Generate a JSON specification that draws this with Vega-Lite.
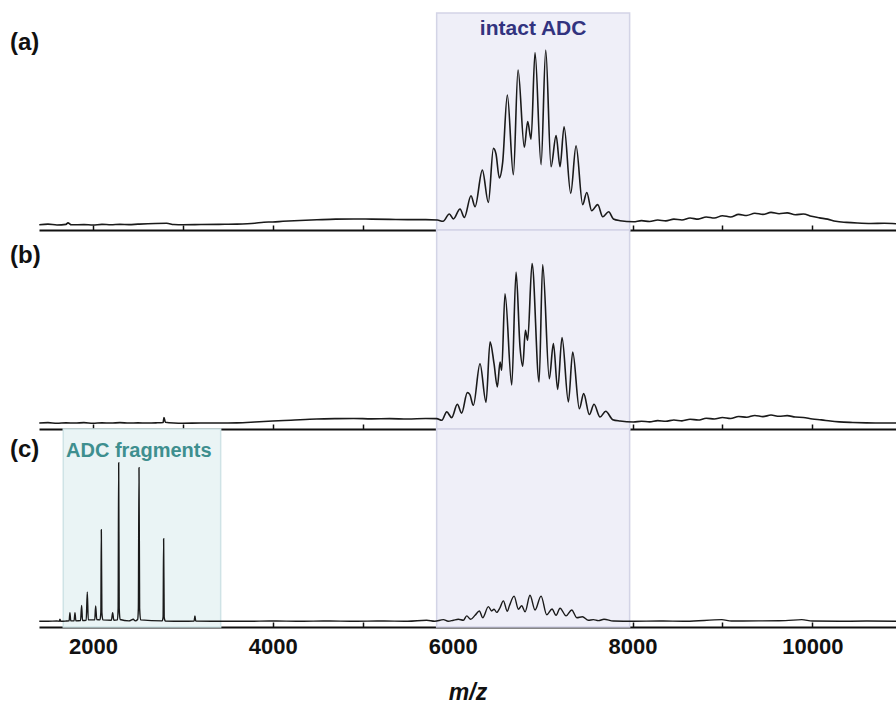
{
  "$schema": "https://vega.github.io/schema/vega-lite/v6.json",
  "padding": {"left": 10, "top": 12, "right": 0, "bottom": 0},
  "background": "white",
  "spacing": 0,
  "bounds": "flush",
  "config": {
    "view": {"stroke": null},
    "font": "Liberation Sans",
    "axisX": {
      "grid": false,
      "domainColor": "#111111",
      "domainWidth": 2,
      "tickColor": "#111111",
      "tickWidth": 1.5
    }
  },
  "datasets": {
    "regions": [
      {"name": "intact ADC", "start": 5822, "end": 7968},
      {"name": "ADC fragments", "start": 1670, "end": 3420}
    ],
    "labels": [
      {"panel": "a", "text": "intact ADC", "mz": 6895, "i": 90},
      {"panel": "c", "text": "ADC fragments", "mz": 2510, "i": 86}
    ],
    "specA": [
      {"mz": 1403, "i": 2.4}, {"mz": 1500, "i": 2.7}, {"mz": 1600, "i": 2.3}, {"mz": 1700, "i": 2.6}, {"mz": 1722, "i": 3.3}, {"mz": 1760, "i": 2.4},
      {"mz": 1900, "i": 2.5}, {"mz": 2000, "i": 2.3}, {"mz": 2100, "i": 2.6}, {"mz": 2200, "i": 2.4}, {"mz": 2300, "i": 2.6}, {"mz": 2400, "i": 2.5},
      {"mz": 2500, "i": 2.7}, {"mz": 2820, "i": 3.1}, {"mz": 2900, "i": 2.5}, {"mz": 3000, "i": 2.4}, {"mz": 3200, "i": 2.5}, {"mz": 3400, "i": 2.6},
      {"mz": 3600, "i": 2.7}, {"mz": 3800, "i": 3.1}, {"mz": 3900, "i": 3.6}, {"mz": 4000, "i": 3.7}, {"mz": 4113, "i": 4.0}, {"mz": 4300, "i": 4.4},
      {"mz": 4491, "i": 4.7}, {"mz": 4700, "i": 5.0}, {"mz": 4900, "i": 5.1}, {"mz": 5100, "i": 5.0}, {"mz": 5300, "i": 4.9}, {"mz": 5500, "i": 4.8},
      {"mz": 5700, "i": 4.8}, {"mz": 5830, "i": 4.6}, {"mz": 5893, "i": 4.0}, {"mz": 5963, "i": 7.4}, {"mz": 6008, "i": 5.1}, {"mz": 6082, "i": 9.7},
      {"mz": 6130, "i": 5.8}, {"mz": 6204, "i": 15.8}, {"mz": 6249, "i": 10.7}, {"mz": 6330, "i": 27.6}, {"mz": 6397, "i": 12.7}, {"mz": 6453, "i": 37.6},
      {"mz": 6482, "i": 35.0}, {"mz": 6519, "i": 24.0}, {"mz": 6556, "i": 31.2}, {"mz": 6608, "i": 62.2}, {"mz": 6675, "i": 25.5}, {"mz": 6727, "i": 73.7},
      {"mz": 6797, "i": 38.1}, {"mz": 6834, "i": 50.0}, {"mz": 6872, "i": 41.9}, {"mz": 6916, "i": 81.8}, {"mz": 6983, "i": 30.1}, {"mz": 7035, "i": 82.9},
      {"mz": 7094, "i": 29.2}, {"mz": 7150, "i": 43.5}, {"mz": 7194, "i": 29.2}, {"mz": 7239, "i": 47.6}, {"mz": 7313, "i": 16.9}, {"mz": 7372, "i": 38.8},
      {"mz": 7446, "i": 11.7}, {"mz": 7491, "i": 17.3}, {"mz": 7546, "i": 8.9}, {"mz": 7613, "i": 11.7}, {"mz": 7669, "i": 6.1}, {"mz": 7735, "i": 8.4},
      {"mz": 7787, "i": 5.1}, {"mz": 7861, "i": 4.3}, {"mz": 8010, "i": 3.8}, {"mz": 8100, "i": 4.3}, {"mz": 8190, "i": 3.9}, {"mz": 8280, "i": 4.6},
      {"mz": 8370, "i": 4.2}, {"mz": 8460, "i": 5.0}, {"mz": 8550, "i": 4.6}, {"mz": 8640, "i": 5.5}, {"mz": 8730, "i": 5.0}, {"mz": 8820, "i": 6.0},
      {"mz": 8910, "i": 5.5}, {"mz": 9000, "i": 6.6}, {"mz": 9090, "i": 6.0}, {"mz": 9180, "i": 7.2}, {"mz": 9270, "i": 6.7}, {"mz": 9360, "i": 7.7},
      {"mz": 9450, "i": 7.2}, {"mz": 9540, "i": 8.1}, {"mz": 9630, "i": 7.5}, {"mz": 9720, "i": 7.9}, {"mz": 9810, "i": 7.0}, {"mz": 9900, "i": 7.4},
      {"mz": 9990, "i": 6.3}, {"mz": 10080, "i": 5.6}, {"mz": 10170, "i": 5.0}, {"mz": 10260, "i": 4.0}, {"mz": 10380, "i": 3.5}, {"mz": 10500, "i": 3.2},
      {"mz": 10650, "i": 3.0}, {"mz": 10800, "i": 3.1}, {"mz": 10930, "i": 2.9}
    ],
    "specB": [
      {"mz": 1403, "i": 3.0}, {"mz": 1500, "i": 3.2}, {"mz": 1600, "i": 2.9}, {"mz": 1700, "i": 3.1}, {"mz": 1800, "i": 3.0}, {"mz": 1900, "i": 3.2},
      {"mz": 2000, "i": 2.9}, {"mz": 2100, "i": 3.1}, {"mz": 2200, "i": 3.0}, {"mz": 2300, "i": 3.2}, {"mz": 2400, "i": 3.0}, {"mz": 2500, "i": 3.1},
      {"mz": 2600, "i": 3.0}, {"mz": 2700, "i": 3.1}, {"mz": 2780, "i": 3.3}, {"mz": 2790, "i": 5.7}, {"mz": 2805, "i": 3.4}, {"mz": 2900, "i": 3.0},
      {"mz": 3000, "i": 2.9}, {"mz": 3200, "i": 3.0}, {"mz": 3400, "i": 3.0}, {"mz": 3600, "i": 3.1}, {"mz": 3800, "i": 3.5}, {"mz": 4000, "i": 4.0},
      {"mz": 4200, "i": 4.4}, {"mz": 4488, "i": 5.0}, {"mz": 4700, "i": 5.2}, {"mz": 4900, "i": 5.3}, {"mz": 5100, "i": 5.1}, {"mz": 5300, "i": 5.2},
      {"mz": 5500, "i": 5.0}, {"mz": 5700, "i": 5.3}, {"mz": 5823, "i": 5.2}, {"mz": 5880, "i": 4.4}, {"mz": 5934, "i": 8.6}, {"mz": 5989, "i": 5.7},
      {"mz": 6052, "i": 12.4}, {"mz": 6100, "i": 8.0}, {"mz": 6163, "i": 18.3}, {"mz": 6190, "i": 17.4}, {"mz": 6230, "i": 11.9}, {"mz": 6304, "i": 32.8},
      {"mz": 6371, "i": 13.4}, {"mz": 6416, "i": 43.8}, {"mz": 6460, "i": 32.8}, {"mz": 6497, "i": 21.1}, {"mz": 6527, "i": 33.7}, {"mz": 6545, "i": 29.5},
      {"mz": 6582, "i": 68.0}, {"mz": 6657, "i": 22.1}, {"mz": 6705, "i": 78.9}, {"mz": 6749, "i": 41.2}, {"mz": 6779, "i": 31.5}, {"mz": 6809, "i": 49.6},
      {"mz": 6834, "i": 44.6}, {"mz": 6883, "i": 83.1}, {"mz": 6961, "i": 23.6}, {"mz": 7001, "i": 82.6}, {"mz": 7075, "i": 25.3}, {"mz": 7120, "i": 42.9},
      {"mz": 7168, "i": 19.9}, {"mz": 7216, "i": 45.9}, {"mz": 7287, "i": 13.6}, {"mz": 7335, "i": 38.7}, {"mz": 7409, "i": 10.2}, {"mz": 7457, "i": 17.8},
      {"mz": 7520, "i": 7.3}, {"mz": 7572, "i": 12.4}, {"mz": 7639, "i": 6.0}, {"mz": 7702, "i": 8.9}, {"mz": 7780, "i": 4.7}, {"mz": 7861, "i": 4.0},
      {"mz": 8010, "i": 3.5}, {"mz": 8100, "i": 3.9}, {"mz": 8190, "i": 3.6}, {"mz": 8280, "i": 4.2}, {"mz": 8370, "i": 3.9}, {"mz": 8460, "i": 4.5},
      {"mz": 8550, "i": 4.1}, {"mz": 8640, "i": 4.9}, {"mz": 8730, "i": 4.5}, {"mz": 8820, "i": 5.4}, {"mz": 8910, "i": 5.0}, {"mz": 9000, "i": 5.8},
      {"mz": 9090, "i": 5.3}, {"mz": 9180, "i": 6.3}, {"mz": 9270, "i": 5.9}, {"mz": 9360, "i": 6.8}, {"mz": 9450, "i": 6.2}, {"mz": 9540, "i": 7.0},
      {"mz": 9630, "i": 6.4}, {"mz": 9720, "i": 6.7}, {"mz": 9810, "i": 6.0}, {"mz": 9900, "i": 5.8}, {"mz": 10000, "i": 5.0}, {"mz": 10100, "i": 4.6},
      {"mz": 10200, "i": 4.0}, {"mz": 10300, "i": 3.6}, {"mz": 10450, "i": 3.3}, {"mz": 10600, "i": 3.1}, {"mz": 10800, "i": 3.0}, {"mz": 10930, "i": 3.0}
    ],
    "specC": [
      {"mz": 1403, "i": 2.9}, {"mz": 1500, "i": 2.9}, {"mz": 1600, "i": 3.0}, {"mz": 1625, "i": 2.9}, {"mz": 1633, "i": 3.9}, {"mz": 1642, "i": 2.9},
      {"mz": 1700, "i": 3.0}, {"mz": 1735, "i": 3.1}, {"mz": 1744, "i": 7.2}, {"mz": 1753, "i": 3.1}, {"mz": 1790, "i": 3.1}, {"mz": 1800, "i": 7.2},
      {"mz": 1810, "i": 3.1}, {"mz": 1862, "i": 3.3}, {"mz": 1874, "i": 10.9}, {"mz": 1884, "i": 3.3}, {"mz": 1925, "i": 3.4}, {"mz": 1937, "i": 17.7},
      {"mz": 1948, "i": 3.6}, {"mz": 2020, "i": 3.6}, {"mz": 2030, "i": 10.6}, {"mz": 2042, "i": 3.8}, {"mz": 2078, "i": 3.6}, {"mz": 2088, "i": 7.5},
      {"mz": 2093, "i": 49.1}, {"mz": 2099, "i": 7.5}, {"mz": 2110, "i": 3.6}, {"mz": 2205, "i": 3.4}, {"mz": 2219, "i": 7.2}, {"mz": 2232, "i": 3.4},
      {"mz": 2272, "i": 3.6}, {"mz": 2280, "i": 9.5}, {"mz": 2286, "i": 83.0}, {"mz": 2292, "i": 9.5}, {"mz": 2302, "i": 3.8}, {"mz": 2400, "i": 3.1},
      {"mz": 2449, "i": 3.9}, {"mz": 2470, "i": 3.1}, {"mz": 2497, "i": 3.8}, {"mz": 2505, "i": 9.5}, {"mz": 2512, "i": 80.5}, {"mz": 2519, "i": 9.5},
      {"mz": 2530, "i": 3.6}, {"mz": 2770, "i": 3.1}, {"mz": 2780, "i": 5.0}, {"mz": 2786, "i": 44.6}, {"mz": 2792, "i": 5.0}, {"mz": 2805, "i": 3.0},
      {"mz": 3000, "i": 2.9}, {"mz": 3125, "i": 3.0}, {"mz": 3134, "i": 5.6}, {"mz": 3143, "i": 3.0}, {"mz": 3400, "i": 2.9}, {"mz": 3700, "i": 2.9},
      {"mz": 4000, "i": 3.0}, {"mz": 4300, "i": 2.9}, {"mz": 4600, "i": 3.0}, {"mz": 4900, "i": 2.9}, {"mz": 5200, "i": 3.0}, {"mz": 5500, "i": 2.9},
      {"mz": 5711, "i": 3.4}, {"mz": 5800, "i": 2.9}, {"mz": 5897, "i": 3.7}, {"mz": 5950, "i": 2.9}, {"mz": 6008, "i": 3.4}, {"mz": 6063, "i": 3.9},
      {"mz": 6119, "i": 3.4}, {"mz": 6156, "i": 5.6}, {"mz": 6200, "i": 3.9}, {"mz": 6249, "i": 5.9}, {"mz": 6297, "i": 8.1}, {"mz": 6334, "i": 4.7},
      {"mz": 6397, "i": 10.3}, {"mz": 6434, "i": 8.1}, {"mz": 6460, "i": 9.0}, {"mz": 6490, "i": 7.4}, {"mz": 6527, "i": 9.8}, {"mz": 6564, "i": 13.2},
      {"mz": 6608, "i": 7.9}, {"mz": 6631, "i": 10.7}, {"mz": 6683, "i": 15.6}, {"mz": 6731, "i": 9.0}, {"mz": 6768, "i": 10.7}, {"mz": 6805, "i": 7.7},
      {"mz": 6860, "i": 16.0}, {"mz": 6916, "i": 8.6}, {"mz": 6983, "i": 15.6}, {"mz": 7046, "i": 6.2}, {"mz": 7105, "i": 9.1}, {"mz": 7150, "i": 5.9},
      {"mz": 7194, "i": 9.5}, {"mz": 7261, "i": 5.6}, {"mz": 7324, "i": 8.6}, {"mz": 7380, "i": 4.7}, {"mz": 7443, "i": 5.2}, {"mz": 7509, "i": 3.4},
      {"mz": 7565, "i": 3.7}, {"mz": 7620, "i": 3.2}, {"mz": 7683, "i": 3.9}, {"mz": 7787, "i": 3.0}, {"mz": 8010, "i": 2.9}, {"mz": 8300, "i": 3.0},
      {"mz": 8600, "i": 2.9}, {"mz": 8992, "i": 3.7}, {"mz": 9100, "i": 3.0}, {"mz": 9400, "i": 3.1}, {"mz": 9700, "i": 3.2}, {"mz": 9882, "i": 3.7},
      {"mz": 10000, "i": 3.0}, {"mz": 10300, "i": 2.9}, {"mz": 10600, "i": 3.0}, {"mz": 10930, "i": 2.9}
    ]
  },
  "vconcat": [
    {
      "width": 857,
      "height": 217,
      "title": {"text": "(a)", "anchor": "start", "frame": "group", "orient": "top", "offset": 0, "baseline": "middle", "fontSize": 24, "fontWeight": "bold", "color": "#111111", "dx": -29, "dy": 55},
      "layer": [
        {
          "data": {"name": "regions"},
          "transform": [{"filter": "datum.name === 'intact ADC'"}],
          "mark": {"type": "rect", "fill": "#efeff8", "stroke": "#d3d4e6", "strokeWidth": 1.5},
          "encoding": {
            "x": {"field": "start", "type": "quantitative", "scale": {"domain": [1400, 10930], "nice": false, "zero": false},
              "axis": {"values": [2000, 3000, 4000, 5000, 6000, 7000, 8000, 9000, 10000], "labels": false, "title": null, "tickSize": -5}},
            "x2": {"field": "end"}
          }
        },
        {
          "data": {"name": "specA"},
          "mark": {"type": "line", "color": "#1a1a1a", "strokeWidth": 1.6, "interpolate": "monotone"},
          "encoding": {
            "x": {"field": "mz", "type": "quantitative"},
            "y": {"field": "i", "type": "quantitative", "scale": {"domain": [0, 100], "nice": false}, "axis": null}
          }
        },
        {
          "data": {"name": "labels"},
          "transform": [{"filter": "datum.panel === 'a'"}],
          "mark": {"type": "text", "fontSize": 21, "fontWeight": "bold", "color": "#32337f", "align": "center", "baseline": "alphabetic"},
          "encoding": {
            "x": {"field": "mz", "type": "quantitative"},
            "y": {"field": "i", "type": "quantitative"},
            "text": {"field": "text", "type": "nominal"}
          }
        }
      ]
    },
    {
      "width": 857,
      "height": 199,
      "title": {"text": "(b)", "anchor": "start", "frame": "group", "orient": "top", "offset": 0, "baseline": "middle", "fontSize": 24, "fontWeight": "bold", "color": "#111111", "dx": -29, "dy": 51},
      "layer": [
        {
          "data": {"name": "regions"},
          "transform": [{"filter": "datum.name === 'intact ADC'"}],
          "mark": {"type": "rect", "fill": "#efeff8", "stroke": "#d3d4e6", "strokeWidth": 1.5},
          "encoding": {
            "x": {"field": "start", "type": "quantitative", "scale": {"domain": [1400, 10930], "nice": false, "zero": false},
              "axis": {"values": [2000, 3000, 4000, 5000, 6000, 7000, 8000, 9000, 10000], "labels": false, "title": null, "tickSize": -5}},
            "x2": {"field": "end"}
          }
        },
        {
          "data": {"name": "specB"},
          "mark": {"type": "line", "color": "#1a1a1a", "strokeWidth": 1.6, "interpolate": "monotone"},
          "encoding": {
            "x": {"field": "mz", "type": "quantitative"},
            "y": {"field": "i", "type": "quantitative", "scale": {"domain": [0, 100], "nice": false}, "axis": null}
          }
        }
      ]
    },
    {
      "width": 857,
      "height": 198,
      "title": {"text": "(c)", "anchor": "start", "frame": "group", "orient": "top", "offset": 0, "baseline": "middle", "fontSize": 24, "fontWeight": "bold", "color": "#111111", "dx": -29, "dy": 46},
      "layer": [
        {
          "data": {"name": "regions"},
          "transform": [{"filter": "datum.name === 'intact ADC'"}],
          "mark": {"type": "rect", "fill": "#efeff8", "stroke": "#d3d4e6", "strokeWidth": 1.5},
          "encoding": {
            "x": {"field": "start", "type": "quantitative", "scale": {"domain": [1400, 10930], "nice": false, "zero": false},
              "axis": {"values": [2000, 3000, 4000, 5000, 6000, 7000, 8000, 9000, 10000], "title": "m/z", "titleFontSize": 23, "titleFontWeight": "bold", "titleFontStyle": "italic", "titleColor": "#111111", "titlePadding": 24,
                "labelExpr": "datum.value % 2000 === 0 ? datum.label : ''",
                "labelFontSize": 22, "labelFontWeight": "bold", "labelColor": "#111111", "labelPadding": 14,
                "format": "d", "tickSize": -5}},
            "x2": {"field": "end"}
          }
        },
        {
          "data": {"name": "regions"},
          "transform": [{"filter": "datum.name === 'ADC fragments'"}],
          "mark": {"type": "rect", "fill": "#eaf4f5", "stroke": "#cfe3e6", "strokeWidth": 1.5},
          "encoding": {
            "x": {"field": "start", "type": "quantitative"},
            "x2": {"field": "end"}
          }
        },
        {
          "data": {"name": "specC"},
          "mark": {"type": "line", "color": "#1a1a1a", "strokeWidth": 1.4, "interpolate": "monotone"},
          "encoding": {
            "x": {"field": "mz", "type": "quantitative"},
            "y": {"field": "i", "type": "quantitative", "scale": {"domain": [0, 100], "nice": false}, "axis": null}
          }
        },
        {
          "data": {"name": "labels"},
          "transform": [{"filter": "datum.panel === 'c'"}],
          "mark": {"type": "text", "fontSize": 20, "fontWeight": "bold", "color": "#3e8f8f", "align": "center", "baseline": "alphabetic"},
          "encoding": {
            "x": {"field": "mz", "type": "quantitative"},
            "y": {"field": "i", "type": "quantitative"},
            "text": {"field": "text", "type": "nominal"}
          }
        }
      ]
    }
  ]
}
